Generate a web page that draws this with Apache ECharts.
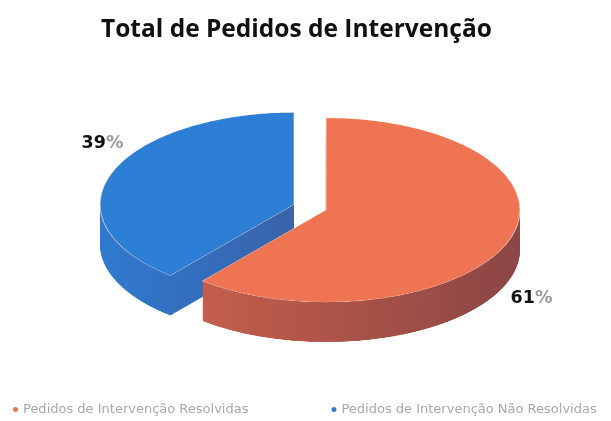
<!DOCTYPE html>
<html>
<head>
<meta charset="utf-8">
<script src="https://cdn.jsdelivr.net/npm/echarts@6/dist/echarts.min.js"></script>
<style>
  html, body { margin: 0; padding: 0; background: #fff; overflow: hidden; width: 611px; height: 421px; }
  #pie { position: absolute; left: 0; top: 60px; width: 611px; height: 680px; transform: scaleY(0.475); transform-origin: 0 0; }
  #main { position: absolute; left: 0; top: 0; width: 611px; height: 421px; }
</style>
</head>
<body>
<div id="pie"></div>
<div id="main"></div>
<script>
const categories = ["Pedidos de Intervenção Resolvidas", "Pedidos de Intervenção Não Resolvidas"]
const values = [61, 39]
const topColors = ["#ee7454", "#2d7fd5"]
const sideColors = [
  ["#c45e4b", "#8b4645"],
  ["#2f7ad0", "#3a63a9"],
]

// the 3D pie: drawn in a squashed container so circles become ellipses
const pieChart = echarts.init(document.getElementById("pie"))
const thickness = 84
const step = 2
const radius = 194
const cx = 310
const cy = 310

function pieLayer(offsetY, isTop) {
  return {
    type: "pie",
    silent: true,
    animation: false,
    center: [cx, cy + offsetY],
    radius: [0, radius],
    startAngle: 90,
    clockwise: true,
    selectedMode: "multiple",
    selectedOffset: 17,
    label: { show: false },
    labelLine: { show: false },
    emphasis: { disabled: true },
    data: categories.map((name, i) => ({
      name: name,
      value: values[i],
      selected: true,
      itemStyle: isTop
        ? { color: topColors[i], borderColor: "rgba(255,235,220,0.7)", borderWidth: 1 }
        : {
            color: new echarts.graphic.LinearGradient(0, 0, 1, 0, [
              { offset: 0, color: sideColors[i][0] },
              { offset: 1, color: sideColors[i][1] },
            ]),
            borderWidth: 0,
          },
    })),
  }
}

const layers = []
for (let off = thickness; off > 0; off -= step) {
  layers.push(pieLayer(off, false))
}
layers.push(pieLayer(0, true))
pieChart.setOption({ animation: false, series: layers })

// title, labels and legend
const chart = echarts.init(document.getElementById("main"))
chart.setOption({
  animation: false,
  title: {
    text: "Total de Pedidos de Intervenção",
    left: 96,
    top: 13,
    textStyle: { fontFamily: "Open Sans", fontWeight: "bold", fontSize: 24.5, color: "#111" },
  },
  legend: {
    bottom: 0,
    left: 8,
    icon: "circle",
    itemWidth: 5,
    itemHeight: 5,
    itemGap: 83,
    textStyle: { fontFamily: "DejaVu Sans", fontSize: 13, color: "#a8a8a8" },
    data: categories.map((name, i) => ({ name: name, itemStyle: { color: topColors[i], opacity: 1 } })),
  },
  series: [
    {
      type: "pie",
      silent: true,
      center: [317, 221],
      radius: [200, 250],
      startAngle: 90,
      clockwise: true,
      itemStyle: { color: "rgba(0,0,0,0)" },
      labelLine: { show: false },
      label: {
        show: true,
        position: "inside",
        formatter: (p) => "{n|" + p.value + "}{p|%}",
        rich: {
          n: { fontFamily: "DejaVu Sans", fontWeight: "bold", fontSize: 17.5, color: "#111" },
          p: { fontFamily: "DejaVu Sans", fontWeight: "bold", fontSize: 17.5, color: "#9a9aa8" },
        },
      },
      data: categories.map((name, i) => ({ name: name, value: values[i] })),
    },
  ],
})
</script>
</body>
</html>
